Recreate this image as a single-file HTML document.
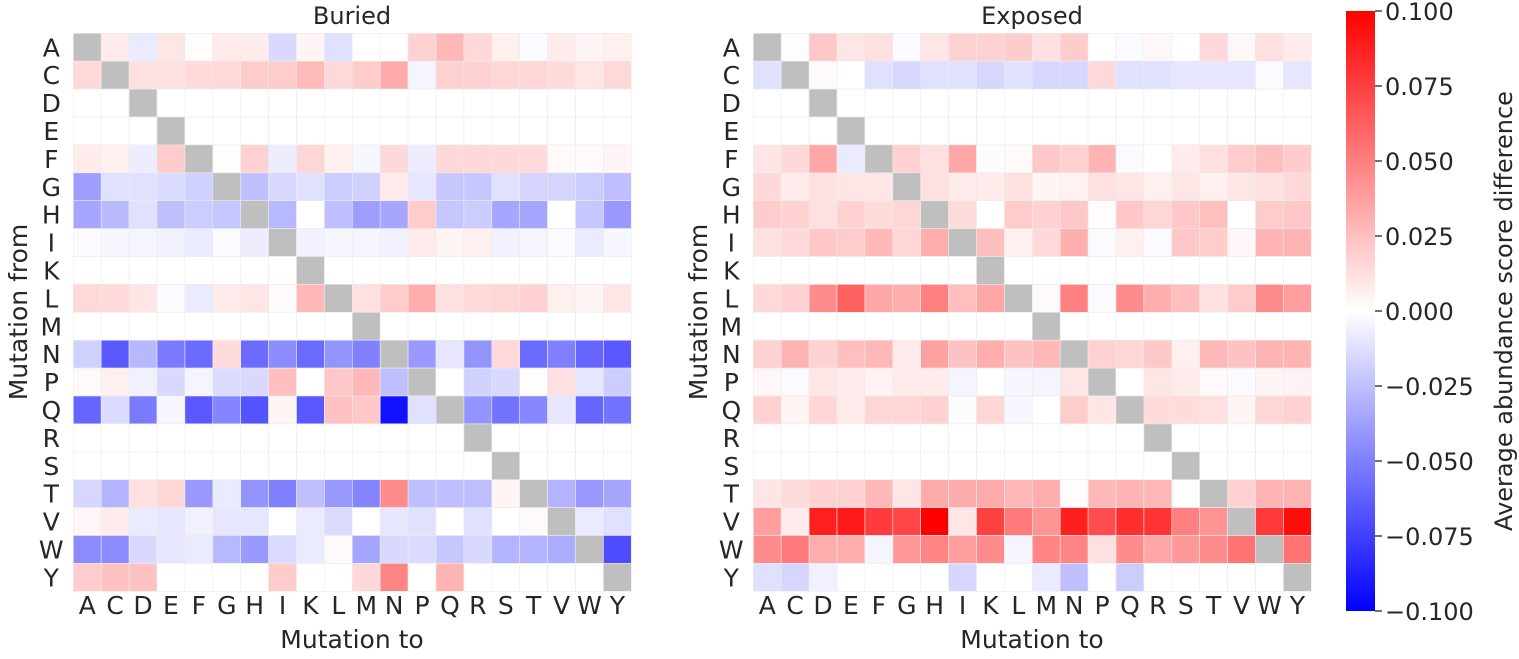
<!DOCTYPE html>
<html><head><meta charset="utf-8"><style>
html,body{margin:0;padding:0;background:#fff;}
svg{display:block;font-family:"DejaVu Sans","Liberation Sans",sans-serif;}
</style></head><body>
<svg id="chart" width="1519" height="659" viewBox="0 0 1519 659">
<defs><linearGradient id="cbg" x1="0" y1="1" x2="0" y2="0">
<stop offset="0" stop-color="#0000ff"/><stop offset="0.5" stop-color="#ffffff"/><stop offset="1" stop-color="#ff0000"/></linearGradient></defs>
<g id="left"></g>
<g id="right"></g>
<text x="352" y="24" font-size="24" text-anchor="middle" fill="#262626">Buried</text>
<text x="1032" y="24" font-size="24" text-anchor="middle" fill="#262626">Exposed</text>
<text x="352" y="648" font-size="25" text-anchor="middle" fill="#262626">Mutation to</text>
<text x="1032" y="648" font-size="25" text-anchor="middle" fill="#262626">Mutation to</text>
<text transform="translate(27,312) rotate(-90)" font-size="25" text-anchor="middle" fill="#262626">Mutation from</text>
<text transform="translate(707,312) rotate(-90)" font-size="25" text-anchor="middle" fill="#262626">Mutation from</text>
<rect x="1346" y="11" width="29" height="600" fill="url(#cbg)"/>
<g id="cbticks"></g>
<text transform="translate(1512,311) rotate(-90)" font-size="24" text-anchor="middle" fill="#262626">Average abundance score difference</text>
</svg>
<script>
const aminoAcids = ["A","C","D","E","F","G","H","I","K","L","M","N","P","Q","R","S","T","V","W","Y"];
// values in units of 0.001; null = diagonal (no data)
const buriedValues = [
[null,8,-8,10,1,8,8,-15,4,-12,0,0,18,28,15,6,-2,8,4,6],
[15,null,12,12,14,15,20,20,27,15,20,33,-4,18,18,16,16,14,10,15],
[0,0,null,0,0,0,0,0,0,0,0,0,0,0,0,0,0,0,0,0],
[0,0,0,null,0,0,0,0,0,0,0,0,0,0,0,0,0,0,0,0],
[8,6,-7,20,null,1,18,-7,16,6,-3,15,-7,15,15,15,14,2,2,4],
[-38,-12,-12,-14,-18,null,-25,-15,-12,-20,-18,8,-10,-22,-22,-12,-17,-17,-20,-25],
[-35,-27,-12,-25,-20,-22,null,-28,0,-25,-38,-35,20,-22,-20,-35,-35,0,-22,-40],
[-2,-3,-4,-5,-8,-2,-7,null,-5,-3,-4,-6,8,4,6,-5,-4,-2,-8,-3],
[0,0,0,0,0,0,0,0,null,0,0,0,0,0,0,0,0,0,0,0],
[15,14,10,-2,-8,8,10,2,28,null,12,20,32,12,15,16,18,6,4,10],
[0,0,0,0,0,0,0,0,0,0,null,0,0,0,0,0,0,0,0,0],
[-18,-65,-28,-52,-58,14,-58,-45,-58,-42,-50,null,-40,-10,-42,15,-58,-50,-60,-65],
[2,6,-6,-15,-4,-14,-15,25,0,22,28,-25,null,0,-18,-15,1,12,-10,-20],
[-60,-14,-52,-3,-65,-48,-67,4,-65,24,22,-93,-12,null,-42,-55,-47,-10,-60,-55],
[0,0,0,0,0,0,0,0,0,0,0,0,0,0,null,0,0,0,0,0],
[0,0,0,0,0,0,0,0,0,0,0,0,0,0,0,null,0,0,0,0],
[-16,-30,12,16,-40,-8,-42,-50,-25,-40,-48,45,-25,-26,-26,4,null,-30,-40,-35],
[3,8,-8,-10,-6,-10,-10,0,-8,-14,0,-10,-12,0,-12,0,2,null,-8,-12],
[-45,-45,-15,-10,-8,-28,-40,-14,-8,2,-35,-15,-14,-22,-15,-30,-30,-32,null,-70],
[20,24,24,0,0,0,0,20,0,0,15,48,0,30,0,0,0,0,0,null]
];
const exposedValues = [
[null,1,22,10,12,-2,10,18,18,20,12,20,0,-2,3,0,15,3,12,8],
[-12,null,2,0,-12,-16,-12,-12,-16,-12,-16,-16,15,-12,-12,-10,-10,-10,-2,-10],
[0,0,null,0,0,0,0,0,0,0,0,0,0,0,0,0,0,0,0,0],
[0,0,0,null,0,0,0,0,0,0,0,0,0,0,0,0,0,0,0,0],
[10,15,35,-8,null,18,12,35,-1,2,22,18,30,-2,0,8,12,20,25,20],
[15,8,12,10,10,null,12,8,8,12,4,5,12,10,6,10,6,10,12,15],
[20,18,12,18,14,16,null,14,0,20,18,22,1,22,16,22,25,0,20,22],
[12,15,22,20,28,16,32,null,25,6,15,32,-2,6,-2,22,20,3,30,30],
[0,0,0,0,0,0,0,0,null,0,0,0,0,0,0,0,0,0,0,0],
[15,18,45,62,35,32,50,25,35,null,2,50,-2,45,32,25,12,20,45,38],
[0,0,0,0,0,0,0,0,0,0,null,0,0,0,0,0,0,0,0,0],
[18,30,18,25,28,8,37,24,32,24,28,null,18,16,22,6,28,24,30,30],
[3,-2,10,8,5,8,8,-4,0,-3,-4,10,null,0,10,8,2,-2,4,5],
[18,4,16,8,16,16,18,-1,16,-3,0,20,10,null,14,14,12,4,16,18],
[0,0,0,0,0,0,0,0,0,0,0,0,0,0,null,0,0,0,0,0],
[0,0,0,0,0,0,0,0,0,0,0,0,0,0,0,null,0,0,0,0],
[10,14,18,18,28,10,33,33,33,28,32,1,28,30,28,1,null,18,30,30],
[38,8,88,90,77,72,100,10,75,52,42,88,70,82,80,50,42,null,78,95],
[45,52,32,32,-4,40,48,38,45,-4,48,48,12,45,35,40,45,55,null,55],
[-12,-16,-6,0,0,0,0,-16,0,0,-8,-25,0,-20,0,0,0,0,0,null]
];
const colorbarTicks = ["0.100","0.075","0.050","0.025","0.000","\u22120.025","\u22120.050","\u22120.075","\u22120.100"];
const colorbarTickValues = [100,75,50,25,0,-25,-50,-75,-100];

const NS = "http://www.w3.org/2000/svg";
const CELL = 27.9, TOP = 33.3;
function color(v){
  if (v === null) return "#bfbfbf";
  const t = Math.max(-1, Math.min(1, v/100));
  if (t >= 0){ const c = Math.round(255*(1-t)); return `rgb(255,${c},${c})`; }
  const c = Math.round(255*(1+t)); return `rgb(${c},${c},255)`;
}
function draw(gid, left, values, prefix){
  const g = document.getElementById(gid);
  const xs = i => left + i*CELL, ys = j => TOP + j*CELL;
  values.forEach((row, r) => row.forEach((v, c) => {
    const rect = document.createElementNS(NS, "rect");
    rect.setAttribute("x", xs(c)); rect.setAttribute("y", ys(r));
    rect.setAttribute("width", CELL); rect.setAttribute("height", CELL);
    rect.setAttribute("fill", color(v));
    rect.setAttribute("stroke", "#ececec"); rect.setAttribute("stroke-width", "0.6");
    
    
    g.appendChild(rect);
  }));
  aminoAcids.forEach((a, i) => {
    const t = document.createElementNS(NS, "text");
    t.setAttribute("x", xs(i) + CELL/2); t.setAttribute("y", 614);
    t.setAttribute("font-size", "25"); t.setAttribute("text-anchor", "middle"); t.setAttribute("fill", "#262626");
    t.textContent = a;
    
    
    g.appendChild(t);
    const u = document.createElementNS(NS, "text");
    u.setAttribute("x", left - 22); u.setAttribute("y", ys(i) + CELL/2 + 9);
    u.setAttribute("font-size", "25"); u.setAttribute("text-anchor", "middle"); u.setAttribute("fill", "#262626");
    u.textContent = a;
    
    
    g.appendChild(u);
  });
}
draw("left", 73.3, buriedValues, "buried");
draw("right", 753.3, exposedValues, "exposed");
const cb = document.getElementById("cbticks");
colorbarTicks.forEach((lab, i) => {
  const y = 311 - colorbarTickValues[i]*3;
  const l = document.createElementNS(NS, "line");
  l.setAttribute("x1", 1375); l.setAttribute("x2", 1382); l.setAttribute("y1", y); l.setAttribute("y2", y);
  l.setAttribute("stroke", "#262626"); l.setAttribute("stroke-width", "1.3");
  
  
  cb.appendChild(l);
  const t = document.createElementNS(NS, "text");
  t.setAttribute("x", 1385); t.setAttribute("y", y + 9);
  t.setAttribute("font-size", "24"); t.setAttribute("fill", "#262626");
  t.textContent = lab;
  
  
  cb.appendChild(t);
});
</script>
</body></html>
